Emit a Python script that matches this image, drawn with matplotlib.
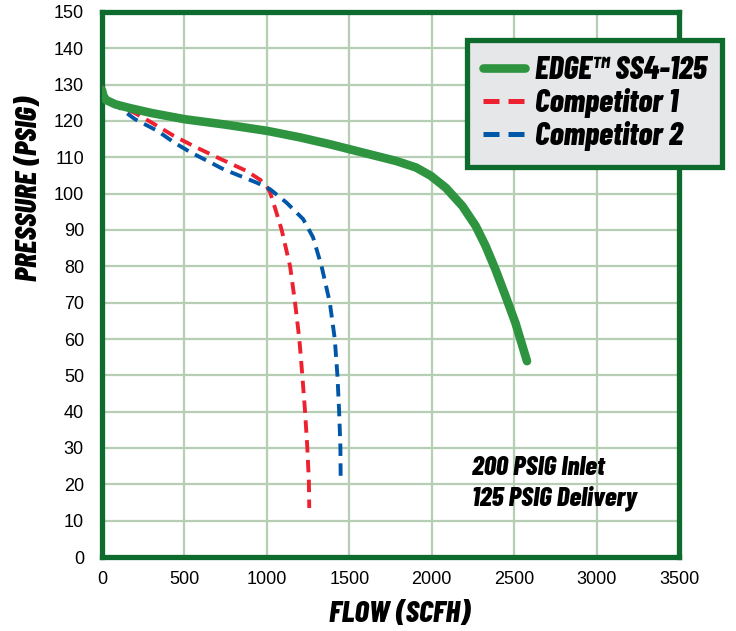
import matplotlib
matplotlib.use('Agg')
from matplotlib import pyplot as plt

# flow (SCFH) vs pressure (PSIG)
edge_flow = [0, 8, 24, 80, 165, 300, 500, 750, 1000, 1200, 1382, 1583, 1784, 1905, 1995,
             2086, 2186, 2267, 2327, 2387, 2448, 2508, 2578]
edge_psig = [128.5, 127, 125.8, 124.6, 123.6, 122.2, 120.5, 119, 117.3, 115.5, 113.6, 111.3,
             109, 107.2, 104.9, 101.6, 96.6, 91.1, 85.6, 79.1, 71.8, 64.4, 53.9]

comp1_flow = [0, 8, 25, 100, 195, 300, 436, 560, 698, 879, 960, 1000, 1020, 1050, 1090, 1141,
              1171, 1197, 1215, 1231, 1245, 1255, 1257]
comp1_psig = [129.7, 127.5, 125.8, 124, 122.3, 119.6, 115.9, 113, 110, 106.2, 103.8, 102, 100.3,
              96, 90, 80, 70, 60, 50, 40.5, 30.4, 20.8, 13.5]

comp2_flow = [0, 8, 25, 105, 200, 336, 440, 537, 738, 940, 1020, 1120, 1220, 1280, 1332, 1382,
              1412, 1428, 1438, 1446, 1448]
comp2_psig = [129.5, 127.3, 125.6, 123.7, 120.5, 117.3, 114, 111.4, 106.7, 103, 101.2, 97.5, 93,
              88, 80, 70, 60, 50, 40.5, 30.4, 20.4]

x_ticks = [0, 500, 1000, 1500, 2000, 2500, 3000, 3500]
y_ticks = list(range(0, 151, 10))

COND = ['Barlow Condensed', 'DejaVu Sans']
PLAIN = ['Liberation Sans', 'DejaVu Sans']
FRAME = '#0d6b2e'

fig = plt.figure(figsize=(7.36, 6.31), dpi=100, facecolor='w')
ax = fig.add_axes([102 / 736, 74 / 631, 577 / 736, 545 / 631])

ax.plot(edge_flow, edge_psig, color='#2e9440', lw=6.2, solid_capstyle='round',
        solid_joinstyle='round', label='EDGE\u2122 SS4-125', zorder=4)
ax.plot(comp1_flow, comp1_psig, color='#ee2130', lw=2.8, dashes=(3.2, 1.9),
        label='Competitor 1', zorder=3)
ax.plot(comp2_flow, comp2_psig, color='#0057a8', lw=2.8, dashes=(3.2, 1.9),
        label='Competitor 2', zorder=3)

ax.set_xlim(0, 3500)
ax.set_ylim(0, 150)
ax.set_xticks(x_ticks)
ax.set_yticks(y_ticks)
ax.grid(True, color='#b6cfb4', lw=1.6)
ax.set_axisbelow(True)
ax.tick_params(length=0, labelsize=13)
ax.tick_params(axis='x', pad=10)
ax.tick_params(axis='y', pad=13)
for lbl in ax.get_xticklabels() + ax.get_yticklabels():
    lbl.set_family(PLAIN)
for sp in ax.spines.values():
    sp.set_color(FRAME)
    sp.set_linewidth(3.8)

ax.set_xlabel('FLOW (SCFH)', family=COND, fontsize=22, fontweight=800, style='italic')
ax.set_ylabel('PRESSURE (PSIG)', family=COND, fontsize=22, fontweight=800, style='italic')
ax.xaxis.set_label_coords(0.515, -0.08)
ax.yaxis.set_label_coords(-0.102, 0.675)

leg = ax.legend(loc='upper left', bbox_to_anchor=((467 - 102) / 577, (557 - 40) / 545),
                prop={'family': COND, 'size': 23, 'weight': 800, 'style': 'italic'},
                handlelength=1.3, handletextpad=0.32, labelspacing=0.1,
                borderpad=0.5, borderaxespad=0, fancybox=False, framealpha=1)
leg.get_frame().set_facecolor('#e6e7e8')
leg.get_frame().set_edgecolor(FRAME)
leg.get_frame().set_linewidth(3.8)
leg.set_zorder(6)
leg.set_clip_on(False)
for h in leg.get_lines()[1:]:
    h.set_linewidth(3.6)
    h.set_dashes((3.2, 1.8))

ax.text(2245, 24.5, '200 PSIG Inlet', family=COND, fontsize=19.5, fontweight=800,
        style='italic', va='center', ha='left')
ax.text(2245, 16.3, '125 PSIG Delivery', family=COND, fontsize=19.5, fontweight=800,
        style='italic', va='center', ha='left')

plt.savefig('out.png', dpi=100)
